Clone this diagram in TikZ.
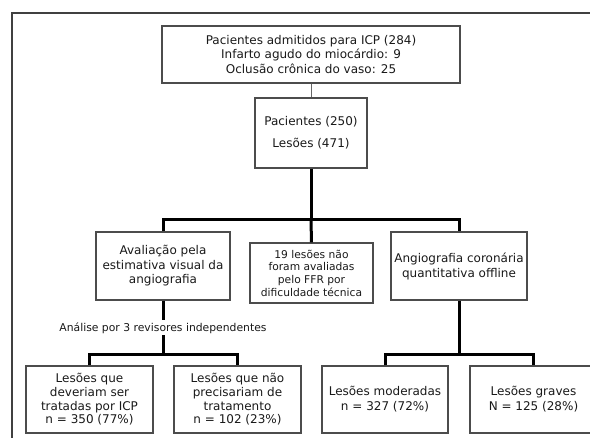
\documentclass[tikz,border=0pt]{standalone}
\usepackage{fontspec}
\setmainfont{DejaVu Sans}
\usepackage{tikz}

\begin{document}
\begin{tikzpicture}
        [x = 1pt, y = -1pt, font = \fontsize{12}{14.5}\selectfont,
        box/.style = {rectangle, draw=black!70, line width = 1.3pt, align=center, inner sep = 1pt, text=black!90},
        link/.style = {draw=black, line width = 3pt},
        thin link/.style = {draw=black!60, line width = 1pt},
        note/.style = {rectangle, fill=white, inner sep = 2pt, text=black!90, font = \fontsize{10.8}{13}\selectfont}]

        %% page and frame
        \useasboundingbox (0,0) rectangle (590,438);
        \clip (0,0) rectangle (590,438);
        \draw[black!75, line width = 1.5pt] (12,440) -- (12,13) -- (592,13);

        %% place elements on canvas
        \node[box, minimum width = 298pt, minimum height = 57pt] (admit) at (311,54.5)
            {Pacientes admitidos para ICP (284)\\Infarto agudo do miocárdio: 9\\Oclusão crônica do vaso: 25};
        \node[box, minimum width = 112pt, minimum height = 70pt, font = \fontsize{12}{22}\selectfont] (pat) at (311,133)
            {Pacientes (250)\\Lesões (471)};

        \node[box, minimum width = 134pt, minimum height = 68pt] (aval) at (163,266)
            {Avaliação pela\\estimativa visual da\\angiografia};
        \node[box, minimum width = 123pt, minimum height = 60pt, font = \fontsize{10.7}{12.7}\selectfont] (naoav) at (311.5,273)
            {19 lesões não\\foram avaliadas\\pelo FFR por\\dificuldade técnica};
        \node[box, minimum width = 136pt, minimum height = 68pt, font = \fontsize{12}{15}\selectfont] (angio) at (459,266)
            {Angiografia coronária\\quantitativa offline};

        \node[box, minimum width = 127pt, minimum height = 67pt, font = \fontsize{12}{13.7}\selectfont] (tratar) at (89.5,399.5)
            {Lesões que\\deveriam ser\\tratadas por ICP\\n = 350 (77\%)};
        \node[box, minimum width = 127pt, minimum height = 67pt, font = \fontsize{12}{13.7}\selectfont] (naotratar) at (237.5,399.5)
            {Lesões que não\\precisariam de\\tratamento\\n = 102 (23\%)};
        \node[box, minimum width = 126pt, minimum height = 67pt, font = \fontsize{12}{15}\selectfont] (moder) at (385,399.5)
            {Lesões moderadas\\n = 327 (72\%)};
        \node[box, minimum width = 127pt, minimum height = 67pt, font = \fontsize{12}{15}\selectfont] (graves) at (533.5,399.5)
            {Lesões graves\\N = 125 (28\%)};

        %% branch points
        \coordinate (split1) at (311,220);
        \coordinate (split2) at (163,355);
        \coordinate (split3) at (459,355);

        %% connect elements
        \path[thin link] (admit) edge (pat);
        \draw[link] (pat) -- (split1);
        \draw[link] (aval.north) |- (split1) -| (angio.north);
        \draw[link] (split1) -- (naoav.north);

        \draw[link] (aval) -- node[note] {Análise por 3 revisores independentes} (split2);
        \draw[link] (tratar.north) |- (split2) -| (naotratar.north);

        \draw[link] (angio) -- (split3);
        \draw[link] (moder.north) |- (split3) -| (graves.north);
\end{tikzpicture}
\end{document}
